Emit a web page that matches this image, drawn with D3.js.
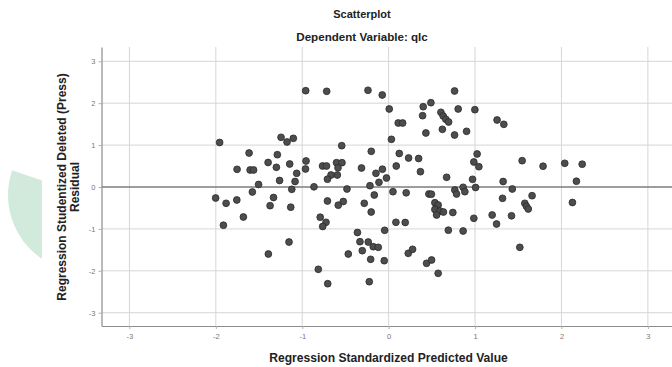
<!DOCTYPE html>
<html>
<head>
<meta charset="utf-8">
<script src="https://cdn.jsdelivr.net/npm/d3@7"></script>
<style>
  body { margin: 0; background: #fff; }
  svg { display: block; font-family: "Liberation Sans", Arial, sans-serif; }
</style>
</head>
<body>
<svg id="drawing_region"></svg>
<script>
// predicted values (x) and studentized deleted residuals (y)
const predicted = [
  -1.956, -1.615, -1.754, -1.603, -1.563, -1.505, -2.002, -1.881, -1.757, -1.577, -1.681, -1.912,
  -1.245, -1.176, -1.103, -1.288, -1.395, -1.145, -1.299, -1.064, -1.262, -1.083, -1.121, -1.332,
  -1.372, -1.133, -1.153, -1.392, -0.960, -0.717, -0.956, -0.962, -0.765, -0.719, -0.603, -0.540,
  -0.586, -0.594, -0.667, -0.708, -0.864, -0.543, -0.482, -0.708, -0.525, -0.583, -0.792, -0.725,
  -0.763, -0.814, -0.705, -0.467, -0.239, -0.074, 0.007, 0.111, 0.162, 0.032, -0.201, -0.314,
  -0.147, -0.072, -0.216, -0.112, -0.025, -0.166, -0.282, -0.202, -0.361, -0.046, -0.332, -0.236,
  -0.305, -0.178, -0.120, -0.208, -0.051, -0.224, 0.050, 0.088, 0.123, 0.231, 0.347, 0.368,
  0.203, 0.084, 0.192, 0.227, 0.277, 0.431, 0.393, 0.400, 0.489, 0.605, 0.631, 0.662,
  0.694, 0.622, 0.763, 0.763, 0.805, 0.671, 0.466, 0.495, 0.535, 0.573, 0.535, 0.593,
  0.555, 0.634, 0.743, 0.766, 0.786, 0.862, 0.882, 0.691, 0.439, 0.497, 0.573, 0.902,
  0.998, 1.255, 1.333, 1.024, 0.986, 1.044, 0.971, 1.006, 0.862, 0.986, 1.325, 1.431,
  1.660, 1.318, 1.576, 1.595, 1.616, 1.198, 1.422, 1.249, 1.518, 1.545, 1.787, 2.038,
  2.240, 2.173, 2.127
];
const residual = [
  1.062, 0.811, 0.422, 0.406, 0.406, 0.060, -0.263, -0.389, -0.310, -0.119, -0.716, -0.912,
  1.186, 1.074, 1.162, 0.771, 0.585, 0.549, 0.470, 0.327, 0.155, 0.131, -0.055, -0.251,
  -0.446, -0.482, -1.313, -1.599, 2.298, 2.284, 0.621, 0.430, 0.501, 0.501, 0.580, 0.580,
  0.458, 0.286, 0.286, 0.186, 0.005, 0.986, -0.048, -0.334, -0.346, -0.434, -0.721, -0.842,
  -0.943, -1.964, -2.308, -1.599, 2.308, 2.196, 1.862, 1.527, 1.527, 1.138, 0.852, 0.453,
  0.327, 0.425, 0.031, 0.112, 0.215, -0.191, -0.389, -0.597, -1.086, -1.033, -1.305, -1.313,
  -1.520, -1.425, -1.439, -1.726, -1.759, -2.260, -0.112, 0.501, 0.800, 0.692, 0.680, 0.365,
  -0.138, -0.842, -0.847, -1.582, -1.487, 1.289, 1.702, 1.916, 2.012, 1.783, 1.695, 1.616,
  1.551, 1.377, 1.241, 2.291, 1.862, 0.232, -0.167, -0.172, -0.375, -0.430, -0.537, -0.573,
  -0.668, -0.597, -0.609, -0.072, -0.167, -0.007, -0.112, -1.031, -1.821, -1.742, -2.060, 1.329,
  1.845, 1.599, 1.496, 0.788, 0.597, 0.484, 0.184, -0.012, -1.050, -0.747, 0.131, -0.048,
  -0.208, -0.270, -0.389, -0.461, -0.525, -0.668, -0.687, -0.883, -1.439, 0.628, 0.496, 0.566,
  0.544, 0.138, -0.370
];
const xTicks = [-3, -2, -1, 0, 1, 2, 3];
const yTicks = [3, 2, 1, 0, -1, -2, -3];

const chartTitle = "Scatterplot";
const chartSubtitle = "Dependent Variable: qlc";
const xTitle = "Regression Standardized Predicted Value";
const yTitle = ["Regression Studentized Deleted (Press)", "Residual"];

const data = predicted.map((x, i) => ({ x: x, y: residual[i] }));

const config = {
    width: 672,
    height: 367,
    left: 101.5, right: 675, top: 47, bottom: 326
};

const svg = d3.select('#drawing_region')
    .attr('width', config.width)
    .attr('height', config.height);

const xscale = d3.scaleLinear()
    .domain([-3.323, 3.314])
    .range([config.left, config.right]);

const yscale = d3.scaleLinear()
    .domain([-3.317, 3.341])
    .range([config.bottom, config.top]);

// pale green blob at the far left
svg.append('clipPath').attr('id', 'blobclip')
    .append('rect').attr('x', 0).attr('y', 0).attr('width', 42).attr('height', config.height);
svg.append('g')
    .attr('clip-path', 'url(#blobclip)')
    .append('path')
    .attr('transform', 'translate(85,195)')
    .attr('d', d3.arc()({ innerRadius: 0, outerRadius: 77, startAngle: -Math.PI, endAngle: -1.245 }))
    .attr('fill', '#d2eadc');

// titles
svg.append('text')
    .attr('x', 362).attr('y', 18)
    .attr('text-anchor', 'middle')
    .attr('font-size', 11).attr('font-weight', 'bold')
    .attr('fill', '#222')
    .text(chartTitle);

svg.append('text')
    .attr('x', 362).attr('y', 40.5)
    .attr('text-anchor', 'middle')
    .attr('font-size', 11.6).attr('font-weight', 'bold')
    .attr('fill', '#222')
    .text(chartSubtitle);

// gridlines
const grid = svg.append('g');
grid.selectAll('.vg')
    .data(xTicks)
    .enter().append('line')
    .attr('x1', d => xscale(d)).attr('x2', d => xscale(d))
    .attr('y1', config.top).attr('y2', config.bottom)
    .attr('stroke', '#d6d6d6').attr('stroke-width', 1);
grid.selectAll('.hg')
    .data(yTicks.filter(d => d !== 0))
    .enter().append('line')
    .attr('x1', config.left).attr('x2', config.width)
    .attr('y1', d => yscale(d)).attr('y2', d => yscale(d))
    .attr('stroke', '#d6d6d6').attr('stroke-width', 1);

// reference line at zero
svg.append('line')
    .attr('x1', config.left).attr('x2', config.width)
    .attr('y1', yscale(0)).attr('y2', yscale(0))
    .attr('stroke', '#7d7d7d').attr('stroke-width', 1.6);

// axes
const xaxis = d3.axisBottom(xscale)
    .tickValues(xTicks)
    .tickFormat(d => String(d))
    .tickSize(3)
    .tickSizeOuter(0);
const yaxis = d3.axisLeft(yscale)
    .tickValues(yTicks)
    .tickFormat(d => String(d))
    .tickSize(3)
    .tickSizeOuter(0);

const xaxis_group = svg.append('g')
    .attr('transform', `translate(0, ${config.bottom})`)
    .call(xaxis);
const yaxis_group = svg.append('g')
    .attr('transform', `translate(${config.left}, 0)`)
    .call(yaxis);

[xaxis_group, yaxis_group].forEach(g => {
    g.select('.domain').attr('stroke', '#8c8c8c').attr('stroke-width', 1.2);
    g.selectAll('.tick line').attr('stroke', '#b0b0b0');
    g.selectAll('.tick text')
        .attr('fill', '#777')
        .attr('font-size', 7.5)
        .attr('font-family', '"Liberation Sans", Arial, sans-serif');
});
xaxis_group.selectAll('.tick text').attr('y', 8);

// axis titles
svg.append('text')
    .attr('x', 388.5).attr('y', 361.5)
    .attr('text-anchor', 'middle')
    .attr('font-size', 12.1).attr('font-weight', 'bold')
    .attr('fill', '#222')
    .text(xTitle);

svg.selectAll('.ytitle')
    .data(yTitle)
    .enter().append('text')
    .attr('transform', (d, i) => `translate(${62 + i * 13}, 187) rotate(-90)`)
    .attr('dy', '0.35em')
    .attr('text-anchor', 'middle')
    .attr('font-size', 12).attr('font-weight', 'bold')
    .attr('fill', '#222')
    .text(d => d);

// points
svg.append('g')
    .selectAll('circle')
    .data(data)
    .enter().append('circle')
    .attr('cx', d => xscale(d.x))
    .attr('cy', d => yscale(d.y))
    .attr('r', 3.4)
    .attr('fill', '#4d4d4d')
    .attr('stroke', '#2b2b2b')
    .attr('stroke-width', 0.8);
</script>
</body>
</html>
